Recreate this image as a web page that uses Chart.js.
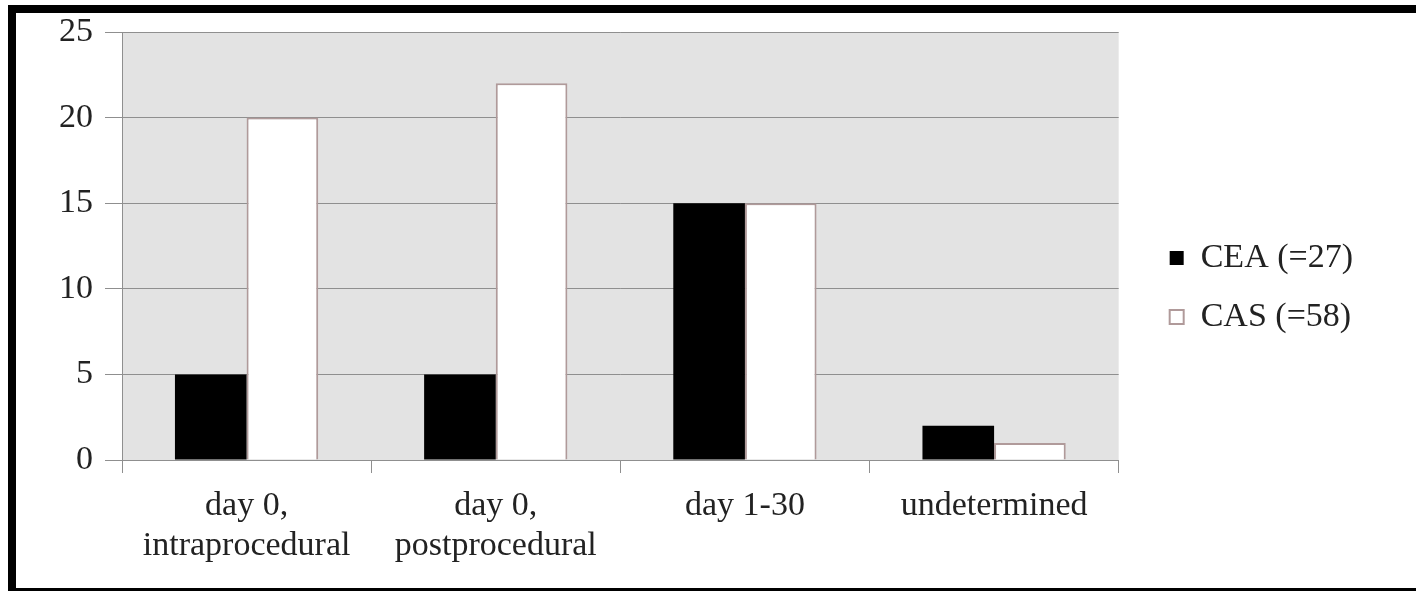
<!DOCTYPE html>
<html>
<head>
<meta charset="utf-8">
<script src="https://cdn.jsdelivr.net/npm/chart.js@4.4.0/dist/chart.umd.min.js"></script>
<style>
  html, body { margin: 0; padding: 0; background: #fff; overflow: hidden; }
  #frame {
    position: absolute; left: 8px; top: 5px;
    width: 1408px; height: 575px;
    border: 8px solid #000; border-right: none;
    background: #fff;
  }
  #wrap { position: absolute; left: 0; top: 0; width: 1400px; height: 575px; }
</style>
</head>
<body>
<div id="frame"><div id="wrap"><canvas id="c"></canvas></div></div>
<script>
var categories = [['day 0,', 'intraprocedural'], ['day 0,', 'postprocedural'], 'day 1-30', 'undetermined'];
var ceaValues = [5, 5, 15, 2];
var casValues = [20, 22, 15, 1];
var seriesLabels = ['CEA (=27)', 'CAS (=58)'];
var yTicks = [0, 5, 10, 15, 20, 25];

var FONT = "'Liberation Serif', 'Times New Roman', serif";
var gridCol = '#8f8f8f';

// gray plot area like the office chart
var plotBg = {
  id: 'plotBg',
  beforeDraw: function(chart) {
    var a = chart.chartArea, ctx = chart.ctx;
    ctx.save();
    ctx.fillStyle = '#e3e3e3';
    ctx.fillRect(a.left, a.top, a.right - a.left, a.bottom - a.top);
    ctx.restore();
  }
};

new Chart(document.getElementById('c'), {
  type: 'bar',
  data: {
    labels: categories,
    datasets: [
      { label: seriesLabels[0], data: ceaValues, backgroundColor: '#000', borderColor: '#000', borderWidth: 0 },
      { label: seriesLabels[1], data: casValues, backgroundColor: '#fff', borderColor: '#b09a9a', borderWidth: 2 }
    ]
  },
  plugins: [plotBg],
  options: {
    responsive: true, maintainAspectRatio: false, animation: false,
    devicePixelRatio: 1,
    layout: { padding: { left: 0, right: 53, top: 19, bottom: 0 } },
    datasets: { bar: { categoryPercentage: 0.575, barPercentage: 1 } },
    plugins: {
      tooltip: { enabled: false },
      legend: {
        position: 'right',
        fullSize: false,
        title: { display: true, text: ' ', font: { size: 10, lineHeight: 1.2 }, padding: { top: 71, bottom: 0 } },
        labels: {
          boxWidth: 14, boxHeight: 14, padding: 25,
          color: '#222',
          font: { family: FONT, size: 34 }
        }
      }
    },
    scales: {
      x: {
        offset: true,
        grid: { display: true, drawOnChartArea: false, drawTicks: true, tickLength: 13, color: gridCol, offset: true },
        border: { display: true, color: gridCol },
        ticks: { color: '#222', padding: 14, maxRotation: 0, autoSkip: false, font: { family: FONT, size: 34, lineHeight: 1.15 } },
        afterFit: function(s) { s.height = 128; }
      },
      y: {
        min: 0, max: 25,
        afterBuildTicks: function(s) { s.ticks = yTicks.map(function(v) { return { value: v }; }); },
        grid: { color: gridCol, tickLength: 17 },
        border: { display: true, color: gridCol },
        ticks: { color: '#222', padding: 12, font: { family: FONT, size: 34, lineHeight: 1 } },
        afterFit: function(s) { s.width = 106; s.paddingTop = 0; s.paddingBottom = 0; }
      },
      spacer: {
        type: 'linear', position: 'right', display: true,
        grid: { display: false }, border: { display: false }, ticks: { display: false },
        afterFit: function(s) { s.width = 26; s.paddingTop = 0; s.paddingBottom = 0; }
      }
    }
  }
});
</script>
</body>
</html>
